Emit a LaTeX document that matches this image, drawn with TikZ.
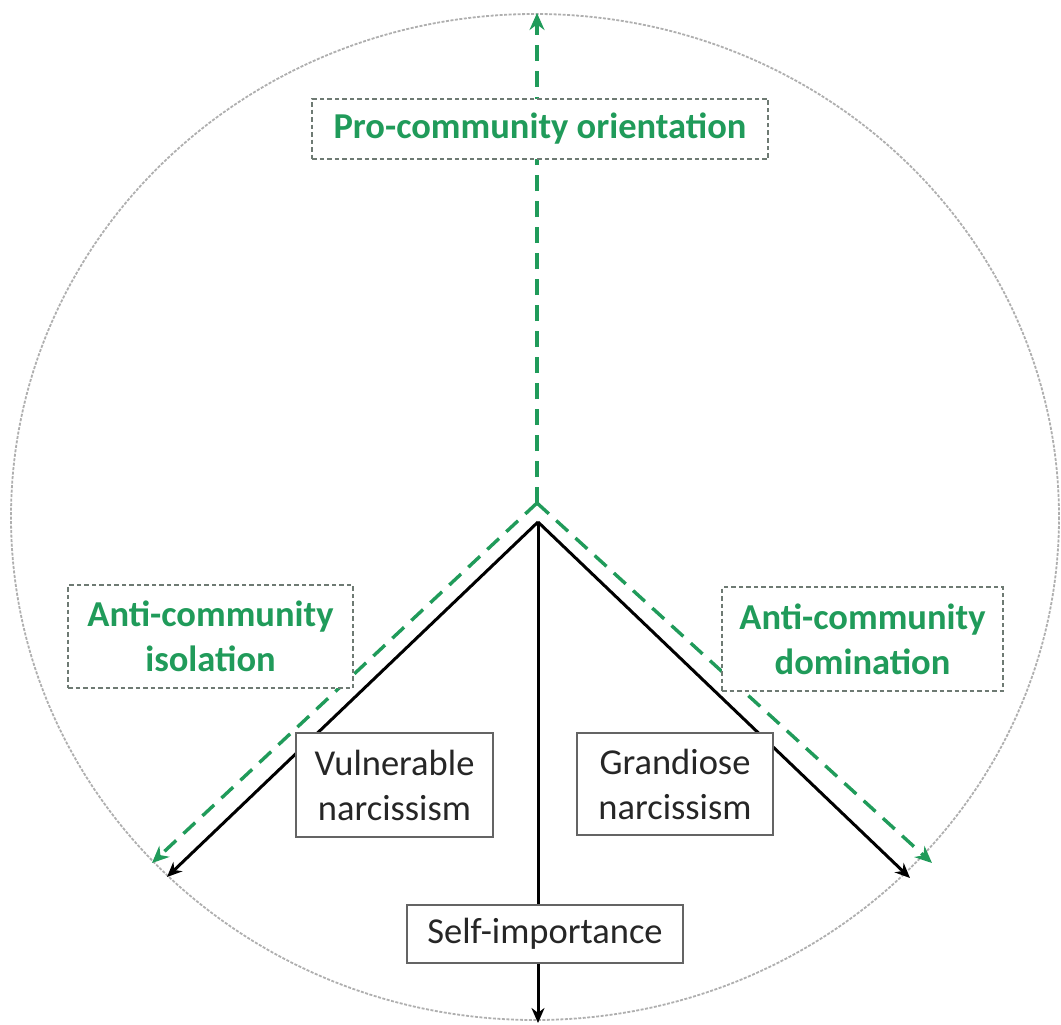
\documentclass[tikz,border=0pt]{standalone}
\usepackage{fontspec}
\setmainfont{Carlito}
\usetikzlibrary{arrows.meta}
\definecolor{grn}{RGB}{32,155,90}
\definecolor{lgr}{RGB}{175,175,175}
\definecolor{bgr}{RGB}{100,100,100}
\definecolor{dgr}{RGB}{110,122,115}
\begin{document}
\begin{tikzpicture}[x=1pt,y=-1pt,
 lbl/.style={draw=bgr, line width=2pt, fill=white, font=\fontsize{36.5}{45}\selectfont, text=black!85, align=center, inner sep=0pt},
 glbl/.style={draw=dgr, dash pattern=on 4.5pt off 3pt, line width=1.6pt, fill=white, font=\fontsize{36.5}{45}\selectfont\bfseries, text=grn, align=center, inner sep=0pt},
 garr/.style={draw=grn, line width=3.4pt, dash pattern=on 16pt off 10pt, -{Stealth[length=17pt,width=15pt]}},
 barr/.style={draw=black, line width=3pt, -{Stealth[length=15pt,width=13pt]}}
]
\useasboundingbox (0,0) rectangle (1061,1025);
\draw[lgr, line width=1.8pt, dash pattern=on 3pt off 1.5pt] (535,517) ellipse [x radius=524, y radius=503];
% coordinates
\coordinate (A) at (538,522);
\coordinate (G) at (537,503);
\coordinate (Gtop) at (537,13);
\coordinate (Gl) at (152,863);
\coordinate (Gr) at (932,863);
\coordinate (Bl) at (167,877);
\coordinate (Br) at (910,878);
\coordinate (Bb) at (538,1023);
% black arrows
\draw[barr] (A) -- (Bl);
\draw[barr] (A) -- (Br);
\draw[barr] (A) -- (Bb);
% green arrows
\draw[garr] (G) -- (Gtop);
\draw[garr] (G) -- (Gl);
\draw[garr] (G) -- (Gr);
% labels
\node[glbl, minimum width=456pt, minimum height=60pt] (pro) at (540,129) {Pro-community orientation};
\node[glbl, minimum width=285pt, minimum height=103pt] (iso) at (210.5,636.5) {Anti-community\\isolation};
\node[glbl, minimum width=281pt, minimum height=104pt] (dom) at (862.5,639) {Anti-community\\domination};
\node[lbl, minimum width=197pt, minimum height=104pt] (vul) at (394.5,785) {Vulnerable\\narcissism};
\node[lbl, minimum width=196pt, minimum height=102pt] (gra) at (675,784) {Grandiose\\narcissism};
\node[lbl, minimum width=276pt, minimum height=58pt] (self) at (545,934) {Self-importance};
\end{tikzpicture}
\end{document}
